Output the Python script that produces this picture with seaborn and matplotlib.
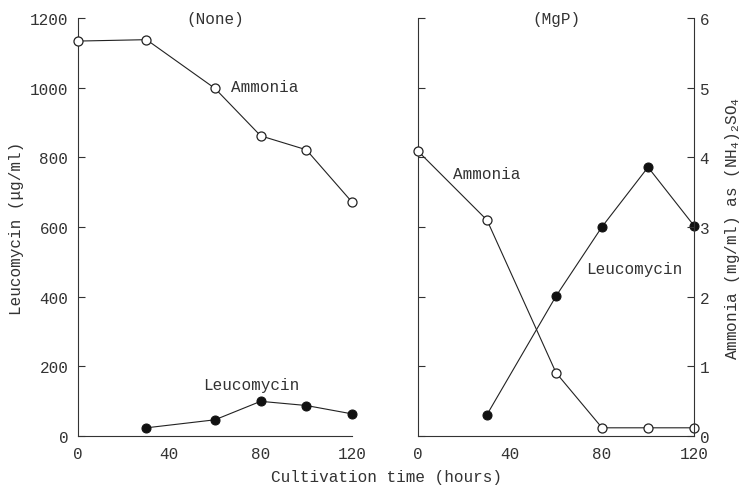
import numpy as np
import pandas as pd
import matplotlib
matplotlib.use('Agg')
import matplotlib.pyplot as plt
import seaborn as sb

# cultivation time (hours)
hours = [0, 30, 60, 80, 100, 120]
leuHours = [30, 60, 80, 100, 120]

# (None) panel
ammNone = [5.67, 5.69, 4.99, 4.31, 4.11, 3.36]      # mg/ml as (NH4)2SO4
leuNone = [24, 47, 100, 88, 64]                     # ug/ml

# (MgP) panel
ammMgP = [4.09, 3.10, 0.91, 0.12, 0.12, 0.12]
leuMgP = [62, 402, 601, 772, 604]

sb.set_style('white')
plt.rcParams['font.family'] = ['Liberation Mono', 'DejaVu Sans Mono']
plt.rcParams['font.size'] = 11.5
plt.rcParams['mathtext.fontset'] = 'custom'
plt.rcParams['mathtext.rm'] = 'Liberation Mono'

fig = plt.figure(figsize=(7.47, 4.89), dpi=100)
axL = fig.add_axes([0.1044, 0.106, 0.3668, 0.855])
axR = fig.add_axes([0.5596, 0.106, 0.3695, 0.855])
axLa = axL.twinx()
axRa = axR.twinx()

lw = 0.8
ms = 6.5
openKw = dict(color='#222222', marker='o', markersize=ms, markerfacecolor='white',
              markeredgecolor='#222222', markeredgewidth=0.9, linewidth=lw, clip_on=False)
fillKw = dict(color='#222222', marker='o', markersize=ms, markerfacecolor='#111111',
              markeredgecolor='#111111', linewidth=lw, clip_on=False)

sb.lineplot(x=hours, y=ammNone, ax=axLa, **openKw)
sb.lineplot(x=leuHours, y=leuNone, ax=axL, **fillKw)
sb.lineplot(x=hours, y=ammMgP, ax=axRa, **openKw)
sb.lineplot(x=leuHours, y=leuMgP, ax=axR, **fillKw)

for ax in [axL, axR]:
    ax.set_xlim(0, 120)
    ax.set_ylim(0, 1200)
    ax.set_xticks([0, 40, 80, 120])
    ax.set_yticks(range(0, 1201, 200))
    ax.tick_params(direction='in', length=5, width=0.8, colors='#333333', pad=7)
    ax.spines['top'].set_visible(False)
    ax.spines['right'].set_visible(False)
    for s in ['left', 'bottom']:
        ax.spines[s].set_linewidth(0.8)
        ax.spines[s].set_color('#333333')
for ax in [axLa, axRa]:
    ax.set_xlim(0, 120)
    ax.set_ylim(0, 6)
    ax.set_yticks(range(0, 7))
    ax.tick_params(direction='in', length=5, width=0.8, colors='#333333', pad=4)
    for s in ['top', 'left', 'bottom']:
        ax.spines[s].set_visible(False)
    ax.spines['right'].set_linewidth(0.8)
    ax.spines['right'].set_color('#333333')

axR.set_yticklabels([])
axLa.spines['right'].set_visible(False)
axLa.set_yticks([])
axRa.set_ylabel('Ammonia (mg/ml) as (NH$_4$)$_2$SO$_4$', color='#333333', labelpad=10)
axL.set_ylabel('Leucomycin (\u03bcg/ml)', color='#333333', labelpad=4)

tc = '#333333'
axL.text(0.5, 1.0, '(None)', transform=axL.transAxes, ha='center', va='center', color=tc)
axR.text(0.5, 1.0, '(MgP)', transform=axR.transAxes, ha='center', va='center', color=tc)
axL.text(67, 1005, 'Ammonia', ha='left', va='center', color=tc)
axL.text(76, 148, 'Leucomycin', ha='center', va='center', color=tc)
axR.text(15, 755, 'Ammonia', ha='left', va='center', color=tc)
axR.text(73, 480, 'Leucomycin', ha='left', va='center', color=tc)

fig.text(0.517, 0.008, 'Cultivation time (hours)', ha='center', va='bottom', color=tc)

plt.savefig('out.png', dpi=100)
